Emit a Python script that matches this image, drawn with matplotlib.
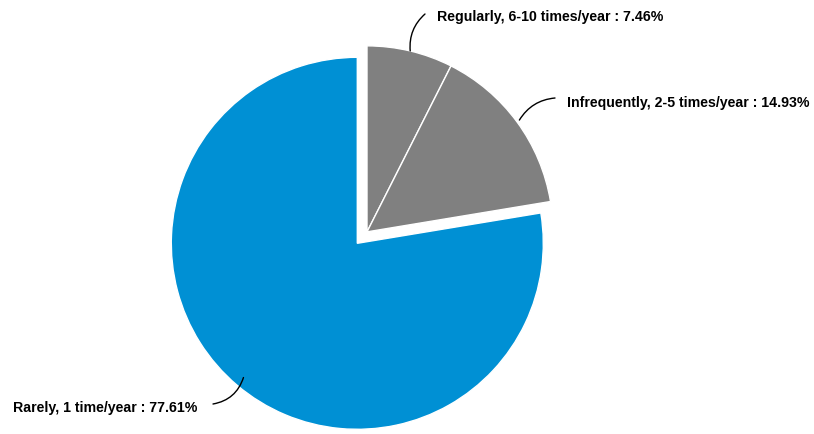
import numpy as np
import matplotlib
matplotlib.use("Agg")
import matplotlib.pyplot as plt

# Survey share of respondents by frequency
categories = ["Regularly, 6-10 times/year", "Infrequently, 2-5 times/year", "Rarely, 1 time/year"]
shares = [7.46, 14.93, 77.61]
colors = ["#808080", "#808080", "#0090d4"]
pulled_out = [True, True, False]

W, H = 814, 434
fig = plt.figure(figsize=(W / 100, H / 100), dpi=100)
ax = fig.add_axes([0, 0, 1, 1])

center = (357.3, 190.7)
radius = 186
pull = 15.0

wedges, _ = ax.pie(shares, colors=colors, startangle=90, counterclock=False,
                   radius=radius, center=center, frame=True,
                   wedgeprops=dict(edgecolor="white", linewidth=1.0))
ax.set_xlim(0, W)
ax.set_ylim(0, H)
ax.set_aspect("equal")
ax.axis("off")

# Pull the highlighted group out along the bisector of its combined angle
total = sum(shares)
group = sum(s for s, p in zip(shares, pulled_out) if p)
group_mid = np.deg2rad(90 - group / total * 360 / 2)
offset = np.array([np.cos(group_mid), np.sin(group_mid)]) * pull
gcenter = np.array(center) + offset
for w, p in zip(wedges, pulled_out):
    if p:
        w.set_center(tuple(gcenter))

# Labels with curved connectors
label_pos = [(437, 417, "left"), (567, 331, "left"), (197, 26, "right")]
line_end = [(425, 420), (555, 336), (213, 30)]
rads = [0.25, 0.25, 0.3]
inset = [0, -3, 10]
cum = 0.0
for i, (cat, s) in enumerate(zip(categories, shares)):
    mid = np.deg2rad(90 - (cum + s / 2) / total * 360)
    cum += s
    c = gcenter if pulled_out[i] else np.array(center)
    r = radius - inset[i]
    edge = c + r * np.array([np.cos(mid), np.sin(mid)])
    ax.annotate("", xy=tuple(edge), xytext=line_end[i],
                arrowprops=dict(arrowstyle="-", color="black", lw=1.0,
                                connectionstyle=f"arc3,rad={rads[i]}",
                                shrinkA=0, shrinkB=0))
    x, y, ha = label_pos[i]
    ax.text(x, y, f"{cat} : {s:.2f}%", ha=ha, va="center",
            fontsize=10.2, fontweight="bold", family="Liberation Sans", color="black")

fig.savefig("out.png", dpi=100, facecolor="white")
